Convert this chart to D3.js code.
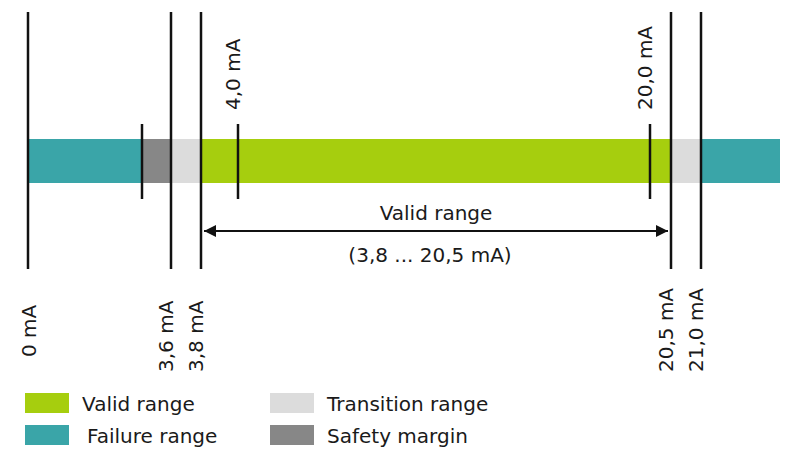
<!DOCTYPE html>
<html><head><meta charset="utf-8">
<script src="https://cdn.jsdelivr.net/npm/d3@7"></script>
<style>body{margin:0;background:#fff}text{font-family:"DejaVu Sans",sans-serif;fill:#1a1a1a}</style>
</head><body><svg id="c" width="800" height="463"></svg>
<script>
// breakpoints of the (non-linear) mA axis
const stops = [0, 3.4, 3.6, 3.8, 4.0, 20.0, 20.5, 21.0, 22.5];
const stopX = [28, 142, 171, 201, 238, 650, 671, 701, 780];
// segments: [from, to, kind]
const segments = [[0, 3.4, 'fail'], [3.4, 3.6, 'safety'], [3.6, 3.8, 'trans'], [3.8, 20.5, 'valid'], [20.5, 21.0, 'trans'], [21.0, 22.5, 'fail']];
const longLines = [0, 3.6, 3.8, 20.5, 21.0];
const longLabels = ['0 mA', '3,6 mA', '3,8 mA', '20,5 mA', '21,0 mA'];
const shortTicks = [3.4, 4.0, 20.0];
const topLabels = [[4.0, '4,0 mA'], [20.0, '20,0 mA']];
const legend = [['valid', 'Valid range'], ['trans', 'Transition range'], ['fail', 'Failure range'], ['safety', 'Safety margin']];
const colors = { valid: '#a6ce0e', trans: '#dcdcdc', fail: '#3aa5a8', safety: '#878787' };

const svg = d3.select('#c');
const x = d3.scaleLinear().domain(stops).range(stopX);

svg.selectAll('rect.seg').data(segments).enter().append('rect')
  .attr('x', d => x(d[0])).attr('width', d => x(d[1]) - x(d[0]))
  .attr('y', 139).attr('height', 44).attr('fill', d => colors[d[2]]);

svg.selectAll('line.long').data(longLines).enter().append('line')
  .attr('x1', d => x(d)).attr('x2', d => x(d)).attr('y1', 12).attr('y2', 269)
  .attr('stroke', '#111').attr('stroke-width', 2.5);
svg.selectAll('line.short').data(shortTicks).enter().append('line')
  .attr('x1', d => x(d)).attr('x2', d => x(d)).attr('y1', 124).attr('y2', 199)
  .attr('stroke', '#111').attr('stroke-width', 2.5);

svg.selectAll('text.bl').data(longLines).enter().append('text')
  .attr('transform', d => `translate(${x(d) - 5 + (d === 0 ? 6 : 0)},${d === 0 ? 357 : 372}) rotate(-90)`)
  .attr('dy', '0.35em').attr('font-size', 20).text((d, i) => longLabels[i]);
svg.selectAll('text.tl').data(topLabels).enter().append('text')
  .attr('transform', d => `translate(${x(d[0]) - 5},110) rotate(-90)`)
  .attr('dy', '0.35em').attr('font-size', 20).text(d => d[1]);

// arrow for valid range
svg.append('defs').append('marker').attr('id', 'ah').attr('viewBox', '0 0 10 10')
  .attr('refX', 10).attr('refY', 5)
  .attr('orient', 'auto-start-reverse').attr('markerUnits', 'userSpaceOnUse')
  .attr('markerWidth', 20).attr('markerHeight', 12)
  .append('path').attr('d', 'M0,0L10,5L0,10z').attr('fill', '#111');
svg.append('line').attr('x1', x(3.8) + 3).attr('x2', x(20.5) - 3).attr('y1', 231).attr('y2', 231)
  .attr('stroke', '#111').attr('stroke-width', 2)
  .attr('marker-start', 'url(#ah)').attr('marker-end', 'url(#ah)');
svg.append('text').attr('x', 436).attr('y', 220).attr('text-anchor', 'middle').attr('font-size', 20).text('Valid range');
svg.append('text').attr('x', 430).attr('y', 262).attr('text-anchor', 'middle').attr('font-size', 20).text('(3,8 ... 20,5 mA)');

const lg = svg.selectAll('g.lg').data(legend).enter().append('g')
  .attr('transform', (d, i) => `translate(${i % 2 ? 270 : 25},${i < 2 ? 393 : 425})`);
lg.append('rect').attr('width', 44).attr('height', 20).attr('fill', d => colors[d[0]]);
lg.append('text').attr('x', (d, i) => i === 2 ? 62 : 57).attr('y', 18).attr('font-size', 20).text(d => d[1]);
</script></body></html>
